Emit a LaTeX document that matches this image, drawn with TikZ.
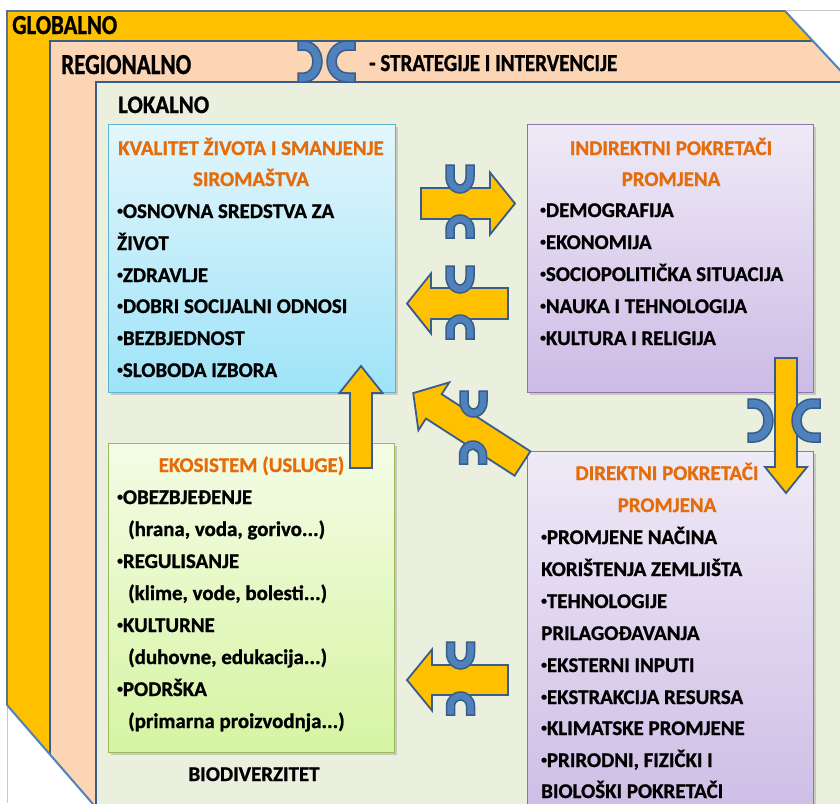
\documentclass[tikz,border=0pt]{standalone}
\usepackage{fontspec}
\setmainfont{Carlito}[BoldFeatures={FakeBold=1}]
\usetikzlibrary{calc}
\definecolor{gold}{HTML}{FFC000}
\definecolor{peach}{HTML}{FCD5B5}
\definecolor{lokal}{HTML}{EBEFDE}
\definecolor{dkblue}{HTML}{385D8A}
\definecolor{ltblue}{HTML}{4F81BD}
\definecolor{orng}{HTML}{E46C0A}
\definecolor{framegrey}{HTML}{C8C8C8}
\definecolor{goldedge}{HTML}{5A7196}
\definecolor{cyanTop}{HTML}{E3F6FC}
\definecolor{cyanBot}{HTML}{9EE3F8}
\definecolor{cyanEdge}{HTML}{5DB5D6}
\definecolor{purTop}{HTML}{EFEAF7}
\definecolor{purBot}{HTML}{CCBBE5}
\definecolor{purEdge}{HTML}{8E74B3}
\definecolor{grnTop}{HTML}{F4FCE6}
\definecolor{grnBot}{HTML}{D6F4A2}
\definecolor{grnEdge}{HTML}{9BBB59}

\newcommand{\bodyfont}{\fontsize{20.9}{24}\selectfont\bfseries}
\newcommand{\bul}{\raisebox{0.17em}{\scalebox{0.55}{•}}}

\tikzset{
 body/.style={anchor=base west, inner sep=0pt, font=\bodyfont, text=black},
 head/.style={anchor=base, inner sep=0pt, font=\bodyfont, text=orng},
 lbl/.style={anchor=base west, inner sep=0pt, font=\bfseries, text=black},
 arrowsty/.style={fill=gold, draw=dkblue, line width=1.8pt, line join=miter},
 bridgesty/.style={fill=ltblue, draw=dkblue, line width=1.5pt},
 boxsty/.style={rectangle, inner sep=0pt, anchor=north west, line width=1pt},
 shadowsty/.style={fill=black, opacity=0.15},
}

% #1 tail, #2 angle, #3 length, #4 body half, #5 head half, #6 head length
\newcommand{\blockarrow}[6]{%
 \begin{scope}[shift={#1}, rotate=#2]
 \filldraw[arrowsty] (0,-#4) -- ({#3-#6},-#4) -- ({#3-#6},-#5) -- (#3,0) -- ({#3-#6},#5) -- ({#3-#6},#4) -- (0,#4) -- cycle;
 \end{scope}}

% #1 opening centre, #2 rotation, #3 half width, #4 depth, #5 y radius, #6 thickness
\newcommand{\bridgepiece}[6]{%
 \begin{scope}[shift={#1}, rotate=#2]
 \filldraw[bridgesty] (-#3,0) -- (-#3,{#4-#5})
   arc[start angle=180,end angle=360,x radius=#3pt,y radius=#5pt]
   -- (#3,0) -- ({#3-#6},0) -- ({#3-#6},{#4-#5})
   arc[start angle=0,end angle=-180,x radius={#3pt-#6pt},y radius={#5pt-#6pt}]
   -- ({-#3+#6},0) -- cycle;
 \end{scope}}

\begin{document}
\begin{tikzpicture}[x=1pt,y=-1pt]
\useasboundingbox (0,0) rectangle (840,803);
\clip (0,0) rectangle (840,803);
\fill[white] (0,0) rectangle (840,803);

% page frame
\draw[framegrey, line width=0.8pt] (840,10) -- (7,10) -- (7,803);

% nested levels
\fill[gold] (7,11) -- (785,11) -- (905,140) -- (905,910) -- (185,910) -- (7,705) -- cycle;
\begin{scope}
 \clip (7,11) -- (785,11) -- (905,140) -- (905,910) -- (185,910) -- (7,705) -- cycle;
 \filldraw[fill=peach, draw=dkblue, line width=2.5pt] (50,41) rectangle (950,950);
 \filldraw[fill=lokal, draw=dkblue, line width=2.5pt] (96,82) rectangle (950,950);
\end{scope}
\draw[ltblue, line width=2pt] (785,11) -- (905,140);
\draw[ltblue, line width=2pt] (7,705) -- (185,910);
\draw[goldedge, line width=1.2pt] (7,705) -- (7,11) -- (785,11);

% level labels
\node[lbl] (glob) at (12,34) {\resizebox{105pt}{18pt}{GLOBALNO}};
\node[lbl] (reg) at (61,74) {\resizebox{130pt}{19pt}{REGIONALNO}};
\node[lbl] (strat) at (369,71) {\resizebox{248pt}{16pt}{- STRATEGIJE I INTERVENCIJE}};
\node[lbl] (lok) at (118,113) {\resizebox{91pt}{16.5pt}{LOKALNO}};

% boxes
\fill[shadowsty] (111,127) rectangle (398,395);
\fill[shadowsty] (530,127) rectangle (816,395);
\fill[shadowsty] (111,446) rectangle (397,755);
\fill[shadowsty] (530,454) rectangle (816,840);
\node[boxsty, draw=cyanEdge, top color=cyanTop, bottom color=cyanBot, minimum width=287pt, minimum height=268pt] (kval) at (108,124) {};
\node[boxsty, draw=purEdge, top color=purTop, bottom color=purBot, minimum width=286pt, minimum height=268pt] (indir) at (527,124) {};
\node[boxsty, draw=grnEdge, top color=grnTop, bottom color=grnBot, minimum width=286pt, minimum height=309pt] (eko) at (108,443) {};
\node[boxsty, draw=purEdge, top color=purTop, bottom color=purBot, minimum width=286pt, minimum height=380pt] (dir) at (527,451) {};

% arrows
\blockarrow{(421,203.5)}{0}{94}{15.5}{31}{25}
\blockarrow{(508,303.5)}{180}{101}{15.5}{30}{24}
\blockarrow{(361,468)}{90}{102}{11}{21.5}{27}
\blockarrow{(522.5,463.5)}{147.2}{130}{14.5}{28.5}{24.5}
\blockarrow{(786,358)}{-90}{135}{11}{21}{26}
\blockarrow{(508,680)}{180}{101}{15}{30.5}{25}

% bridges
\bridgepiece{(460,165)}{0}{14}{28}{16}{8}
\bridgepiece{(460,238)}{180}{14}{23}{14}{8}
\bridgepiece{(460,266)}{0}{14}{27}{16}{8}
\bridgepiece{(460,339)}{180}{14}{24}{14}{8}
\bridgepiece{(460.5,642)}{0}{14}{27}{16}{8}
\bridgepiece{(460.5,715)}{180}{14}{23}{14}{8}
\bridgepiece{(473.5,391)}{0}{13.5}{26}{15}{8}
\bridgepiece{(473,464)}{180}{13.5}{23}{14}{8}
\bridgepiece{(298,61.5)}{90}{20.5}{24}{18}{9}
\bridgepiece{(355,61.5)}{-90}{20.5}{28}{20}{9}
\bridgepiece{(748,420.5)}{90}{21.5}{25}{19}{9}
\bridgepiece{(820,420.5)}{-90}{21.5}{28}{20}{9}

% texts: quality of life
\node[head] (k0) at (251,155) {KVALITET ŽIVOTA I SMANJENJE};
\node[head] (k00) at (251,186) {SIROMAŠTVA};
\node[body] (k1) at (117,218) {\bul OSNOVNA SREDSTVA ZA};
\node[body] (k2) at (117,250) {ŽIVOT};
\node[body] (k3) at (117,282) {\bul ZDRAVLJE};
\node[body] (k4) at (117,313) {\bul DOBRI SOCIJALNI ODNOSI};
\node[body] (k5) at (117,345) {\bul BEZBJEDNOST};
\node[body] (k6) at (117,377) {\bul SLOBODA IZBORA};

% indirect drivers
\node[head] (i0) at (671,155) {INDIREKTNI POKRETAČI};
\node[head] (i00) at (671,186) {PROMJENA};
\node[body] (i1) at (540,217) {\bul DEMOGRAFIJA};
\node[body] (i2) at (540,249) {\bul EKONOMIJA};
\node[body] (i3) at (540,281) {\bul SOCIOPOLITIČKA SITUACIJA};
\node[body] (i4) at (540,313) {\bul NAUKA I TEHNOLOGIJA};
\node[body] (i5) at (540,345) {\bul KULTURA I RELIGIJA};

% ecosystem
\node[head] (e0) at (251.5,472) {EKOSISTEM (USLUGE)};
\node[body] (e1) at (117,504) {\bul OBEZBJEĐENJE};
\node[body] (e2) at (128,536) {(hrana, voda, gorivo...)};
\node[body] (e3) at (117,568) {\bul REGULISANJE};
\node[body] (e4) at (128,600) {(klime, vode, bolesti...)};
\node[body] (e5) at (117,632) {\bul KULTURNE};
\node[body] (e6) at (128,664) {(duhovne, edukacija...)};
\node[body] (e7) at (117,696) {\bul PODRŠKA};
\node[body] (e8) at (128,728) {(primarna proizvodnja...)};
\node[body, anchor=base] (bio) at (254,781) {BIODIVERZITET};

% direct drivers
\node[head] (d0) at (667,480) {DIREKTNI POKRETAČI};
\node[head] (d00) at (667,512) {PROMJENA};
\node[body] (d1) at (541,544) {\bul PROMJENE NAČINA};
\node[body] (d2) at (541,576) {KORIŠTENJA ZEMLJIŠTA};
\node[body] (d3) at (541,608) {\bul TEHNOLOGIJE};
\node[body] (d4) at (541,640) {PRILAGOĐAVANJA};
\node[body] (d5) at (541,672) {\bul EKSTERNI INPUTI};
\node[body] (d6) at (541,704) {\bul EKSTRAKCIJA RESURSA};
\node[body] (d7) at (541,735) {\bul KLIMATSKE PROMJENE};
\node[body] (d8) at (541,767) {\bul PRIRODNI, FIZIČKI I};
\node[body] (d9) at (541,798) {BIOLOŠKI POKRETAČI};
\end{tikzpicture}
\end{document}
